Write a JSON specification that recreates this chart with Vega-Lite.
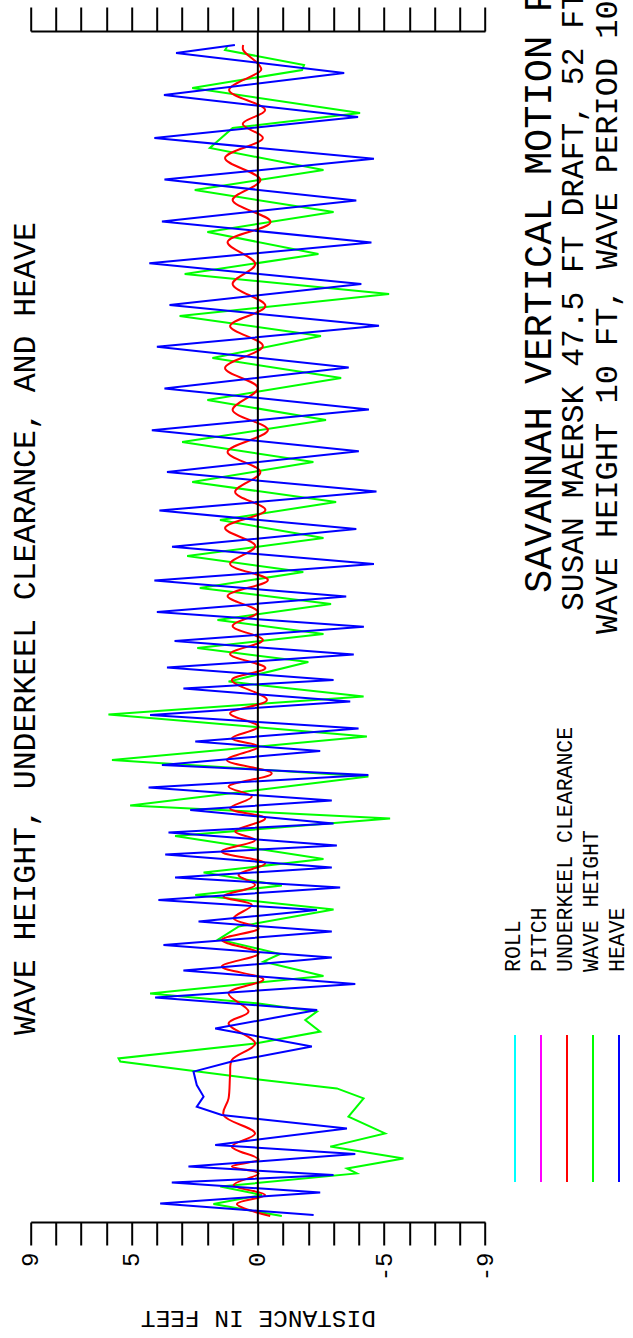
{
  "$schema": "https://vega.github.io/schema/vega-lite/v6.json",
  "width": 454.3,
  "height": 1191,
  "autosize": "none",
  "padding": {"left": 30.7, "top": 31, "right": 148, "bottom": 116},
  "background": "white",
  "config": {"view": {"stroke": null}, "font": "Liberation Mono"},
  "datasets": {
    "motion": [
      {"s":"WAVE HEIGHT","t":3,"v":-0.95},{"s":"WAVE HEIGHT","t":9,"v":1.76},{"s":"WAVE HEIGHT","t":13.5,"v":-0.16},{"s":"WAVE HEIGHT","t":17.7,"v":1.49},{"s":"WAVE HEIGHT","t":24.3,"v":-3.92},{"s":"WAVE HEIGHT","t":26.8,"v":-3.53},{"s":"WAVE HEIGHT","t":31.8,"v":-5.77},{"s":"WAVE HEIGHT","t":37.7,"v":-2.87},{"s":"WAVE HEIGHT","t":44.3,"v":-5.04},{"s":"WAVE HEIGHT","t":52.7,"v":-3.59},{"s":"WAVE HEIGHT","t":61.8,"v":-4.19},{"s":"WAVE HEIGHT","t":66.8,"v":-3.13},{"s":"WAVE HEIGHT","t":71.3,"v":-0.03},{"s":"WAVE HEIGHT","t":80.2,"v":5.45},{"s":"WAVE HEIGHT","t":81.8,"v":5.52},{"s":"WAVE HEIGHT","t":89.3,"v":0.1},{"s":"WAVE HEIGHT","t":95.2,"v":-2.47},{"s":"WAVE HEIGHT","t":101,"v":-1.88},{"s":"WAVE HEIGHT","t":105.2,"v":-2.34},{"s":"WAVE HEIGHT","t":109.3,"v":-0.03},{"s":"WAVE HEIGHT","t":114.3,"v":4.27},{"s":"WAVE HEIGHT","t":123,"v":-2.6},{"s":"WAVE HEIGHT","t":130.2,"v":-0.22},{"s":"WAVE HEIGHT","t":134,"v":-0.88},{"s":"WAVE HEIGHT","t":141.3,"v":1.56},{"s":"WAVE HEIGHT","t":147.7,"v":0.77},{"s":"WAVE HEIGHT","t":156.3,"v":-3.0},{"s":"WAVE HEIGHT","t":163.5,"v":2.48},{"s":"WAVE HEIGHT","t":168.2,"v":-0.95},{"s":"WAVE HEIGHT","t":174.7,"v":2.15},{"s":"WAVE HEIGHT","t":181.5,"v":-2.6},{"s":"WAVE HEIGHT","t":193,"v":3.28},{"s":"WAVE HEIGHT","t":201.8,"v":-5.24},{"s":"WAVE HEIGHT","t":208.2,"v":5.06},{"s":"WAVE HEIGHT","t":222.7,"v":-4.38},{"s":"WAVE HEIGHT","t":231,"v":5.78},{"s":"WAVE HEIGHT","t":242.7,"v":-4.32},{"s":"WAVE HEIGHT","t":253.8,"v":5.92},{"s":"WAVE HEIGHT","t":262.7,"v":-4.19},{"s":"WAVE HEIGHT","t":270.2,"v":1.16},
      {"s":"WAVE HEIGHT","t":280,"v":-2.0},{"s":"WAVE HEIGHT","t":287,"v":2.4},{"s":"WAVE HEIGHT","t":294,"v":-2.6},{"s":"WAVE HEIGHT","t":301,"v":1.6},{"s":"WAVE HEIGHT","t":309,"v":-2.9},{"s":"WAVE HEIGHT","t":317,"v":2.3},{"s":"WAVE HEIGHT","t":325,"v":-1.8},{"s":"WAVE HEIGHT","t":333,"v":2.8},{"s":"WAVE HEIGHT","t":342,"v":-2.6},{"s":"WAVE HEIGHT","t":351,"v":1.5},{"s":"WAVE HEIGHT","t":360,"v":-3.1},{"s":"WAVE HEIGHT","t":370,"v":2.6},{"s":"WAVE HEIGHT","t":380,"v":-2.2},{"s":"WAVE HEIGHT","t":390,"v":3.0},{"s":"WAVE HEIGHT","t":401,"v":-2.7},{"s":"WAVE HEIGHT","t":411,"v":2.0},{"s":"WAVE HEIGHT","t":422,"v":-3.3},{"s":"WAVE HEIGHT","t":432,"v":1.8},{"s":"WAVE HEIGHT","t":443,"v":-2.5},{"s":"WAVE HEIGHT","t":453,"v":3.1},{"s":"WAVE HEIGHT","t":464,"v":-5.2},{"s":"WAVE HEIGHT","t":474,"v":2.9},{"s":"WAVE HEIGHT","t":484,"v":-2.4},{"s":"WAVE HEIGHT","t":495,"v":2.0},{"s":"WAVE HEIGHT","t":505,"v":-3.0},{"s":"WAVE HEIGHT","t":516,"v":2.5},{"s":"WAVE HEIGHT","t":526,"v":-2.6},{"s":"WAVE HEIGHT","t":537,"v":1.9},{"s":"WAVE HEIGHT","t":547,"v":1.0},
      {"s":"WAVE HEIGHT","t":554.5,"v":-4.05},{"s":"WAVE HEIGHT","t":567,"v":2.6},{"s":"WAVE HEIGHT","t":576,"v":-1.75},{"s":"WAVE HEIGHT","t":578.5,"v":-1.83},{"s":"WAVE HEIGHT","t":586,"v":1.3},{"s":"WAVE HEIGHT","t":587.5,"v":1.22},
      {"s":"UNDERKEEL CLEARANCE","t":3,"v":-0.49},{"s":"UNDERKEEL CLEARANCE","t":9,"v":0.83},{"s":"UNDERKEEL CLEARANCE","t":13.5,"v":-0.29},{"s":"UNDERKEEL CLEARANCE","t":18.5,"v":0.96},{"s":"UNDERKEEL CLEARANCE","t":24.3,"v":-0.03},{"s":"UNDERKEEL CLEARANCE","t":27.7,"v":1.03},{"s":"UNDERKEEL CLEARANCE","t":31.3,"v":-0.03},{"s":"UNDERKEEL CLEARANCE","t":37.7,"v":1.03},{"s":"UNDERKEEL CLEARANCE","t":44.3,"v":0.11},{"s":"UNDERKEEL CLEARANCE","t":53.5,"v":1.36},{"s":"UNDERKEEL CLEARANCE","t":61.8,"v":1.16},{"s":"UNDERKEEL CLEARANCE","t":73.5,"v":1.1},{"s":"UNDERKEEL CLEARANCE","t":81,"v":1.03},{"s":"UNDERKEEL CLEARANCE","t":89.3,"v":0.11},{"s":"UNDERKEEL CLEARANCE","t":99.3,"v":1.16},{"s":"UNDERKEEL CLEARANCE","t":105.2,"v":0.37},{"s":"UNDERKEEL CLEARANCE","t":114.3,"v":1.16},{"s":"UNDERKEEL CLEARANCE","t":121.3,"v":-0.22},{"s":"UNDERKEEL CLEARANCE","t":127.7,"v":1.43},{"s":"UNDERKEEL CLEARANCE","t":134.3,"v":-0.03},{"s":"UNDERKEEL CLEARANCE","t":141,"v":1.43},{"s":"UNDERKEEL CLEARANCE","t":146.8,"v":-0.03},{"s":"UNDERKEEL CLEARANCE","t":151.8,"v":0.96},{"s":"UNDERKEEL CLEARANCE","t":158.5,"v":0.24},{"s":"UNDERKEEL CLEARANCE","t":162.7,"v":1.36},{"s":"UNDERKEEL CLEARANCE","t":168.5,"v":0.11},{"s":"UNDERKEEL CLEARANCE","t":173.5,"v":0.77},{"s":"UNDERKEEL CLEARANCE","t":179.3,"v":-0.29},{"s":"UNDERKEEL CLEARANCE","t":185.2,"v":1.43},{"s":"UNDERKEEL CLEARANCE","t":191,"v":0.11},{"s":"UNDERKEEL CLEARANCE","t":195.2,"v":0.9},{"s":"UNDERKEEL CLEARANCE","t":201.8,"v":-0.29},{"s":"UNDERKEEL CLEARANCE","t":206.8,"v":1.1},{"s":"UNDERKEEL CLEARANCE","t":212.7,"v":0.24},{"s":"UNDERKEEL CLEARANCE","t":217.7,"v":1.16},{"s":"UNDERKEEL CLEARANCE","t":224.3,"v":-0.55},{"s":"UNDERKEEL CLEARANCE","t":231,"v":1.23},{"s":"UNDERKEEL CLEARANCE","t":237.7,"v":-0.03},{"s":"UNDERKEEL CLEARANCE","t":241.8,"v":1.03},{"s":"UNDERKEEL CLEARANCE","t":247.7,"v":-0.03},{"s":"UNDERKEEL CLEARANCE","t":254.3,"v":1.1},{"s":"UNDERKEEL CLEARANCE","t":261,"v":-0.36},{"s":"UNDERKEEL CLEARANCE","t":271,"v":1.03},
      {"s":"UNDERKEEL CLEARANCE","t":277,"v":-0.3},{"s":"UNDERKEEL CLEARANCE","t":284,"v":1.1},{"s":"UNDERKEEL CLEARANCE","t":291,"v":-0.2},{"s":"UNDERKEEL CLEARANCE","t":298,"v":1.0},{"s":"UNDERKEEL CLEARANCE","t":305,"v":0.0},{"s":"UNDERKEEL CLEARANCE","t":313,"v":1.2},{"s":"UNDERKEEL CLEARANCE","t":321,"v":-0.4},{"s":"UNDERKEEL CLEARANCE","t":329,"v":1.1},{"s":"UNDERKEEL CLEARANCE","t":338,"v":0.1},{"s":"UNDERKEEL CLEARANCE","t":347,"v":1.3},{"s":"UNDERKEEL CLEARANCE","t":356,"v":-0.3},{"s":"UNDERKEEL CLEARANCE","t":365,"v":0.9},{"s":"UNDERKEEL CLEARANCE","t":375,"v":-0.1},{"s":"UNDERKEEL CLEARANCE","t":385,"v":1.2},{"s":"UNDERKEEL CLEARANCE","t":396,"v":-0.4},{"s":"UNDERKEEL CLEARANCE","t":406,"v":1.0},{"s":"UNDERKEEL CLEARANCE","t":417,"v":0.0},{"s":"UNDERKEEL CLEARANCE","t":427,"v":1.3},{"s":"UNDERKEEL CLEARANCE","t":438,"v":-0.2},{"s":"UNDERKEEL CLEARANCE","t":448,"v":1.1},{"s":"UNDERKEEL CLEARANCE","t":458,"v":-0.3},{"s":"UNDERKEEL CLEARANCE","t":469,"v":1.0},{"s":"UNDERKEEL CLEARANCE","t":479,"v":0.1},{"s":"UNDERKEEL CLEARANCE","t":490,"v":1.2},{"s":"UNDERKEEL CLEARANCE","t":500,"v":-0.5},{"s":"UNDERKEEL CLEARANCE","t":511,"v":1.0},{"s":"UNDERKEEL CLEARANCE","t":521,"v":-0.1},{"s":"UNDERKEEL CLEARANCE","t":532,"v":1.3},{"s":"UNDERKEEL CLEARANCE","t":542,"v":-0.2},{"s":"UNDERKEEL CLEARANCE","t":549,"v":0.6},
      {"s":"UNDERKEEL CLEARANCE","t":556,"v":-0.29},{"s":"UNDERKEEL CLEARANCE","t":566,"v":1.14},{"s":"UNDERKEEL CLEARANCE","t":576,"v":-0.13},{"s":"UNDERKEEL CLEARANCE","t":578.5,"v":-0.05},{"s":"UNDERKEEL CLEARANCE","t":586,"v":0.58},{"s":"UNDERKEEL CLEARANCE","t":588.5,"v":0.58},
      {"s":"HEAVE","t":3.5,"v":-2.21},{"s":"HEAVE","t":9.3,"v":3.87},{"s":"HEAVE","t":14.8,"v":-2.47},{"s":"HEAVE","t":19.7,"v":3.41},{"s":"HEAVE","t":23.5,"v":-3.0},{"s":"HEAVE","t":27.7,"v":2.75},{"s":"HEAVE","t":34,"v":-3.86},{"s":"HEAVE","t":38.5,"v":1.69},{"s":"HEAVE","t":46.8,"v":-3.53},{"s":"HEAVE","t":53.5,"v":1.43},{"s":"HEAVE","t":57.7,"v":2.42},{"s":"HEAVE","t":62.7,"v":2.15},{"s":"HEAVE","t":68.5,"v":2.42},{"s":"HEAVE","t":75.2,"v":2.55},{"s":"HEAVE","t":80.2,"v":1.03},{"s":"HEAVE","t":87.7,"v":-2.14},{"s":"HEAVE","t":96.8,"v":1.69},{"s":"HEAVE","t":106,"v":-2.35},{"s":"HEAVE","t":112.3,"v":4.07},{"s":"HEAVE","t":119,"v":-3.86},{"s":"HEAVE","t":125.7,"v":2.95},{"s":"HEAVE","t":132.2,"v":-2.93},{"s":"HEAVE","t":138.5,"v":3.74},{"s":"HEAVE","t":145.2,"v":-2.93},{"s":"HEAVE","t":150.2,"v":2.35},{"s":"HEAVE","t":156,"v":-2.34},{"s":"HEAVE","t":161,"v":3.94},{"s":"HEAVE","t":167.3,"v":-3.26},{"s":"HEAVE","t":172.3,"v":3.28},{"s":"HEAVE","t":177.2,"v":-2.93},{"s":"HEAVE","t":183.8,"v":3.67},{"s":"HEAVE","t":188.2,"v":-3.13},{"s":"HEAVE","t":194.7,"v":3.54},{"s":"HEAVE","t":199.3,"v":-3.0},{"s":"HEAVE","t":206,"v":2.68},{"s":"HEAVE","t":210.7,"v":-2.93},{"s":"HEAVE","t":217.3,"v":4.33},{"s":"HEAVE","t":223.5,"v":-4.38},{"s":"HEAVE","t":228.5,"v":3.8},{"s":"HEAVE","t":235.5,"v":-2.47},{"s":"HEAVE","t":240.2,"v":2.48},{"s":"HEAVE","t":246.8,"v":-3.99},{"s":"HEAVE","t":253.5,"v":4.27},{"s":"HEAVE","t":260.2,"v":-3.66},{"s":"HEAVE","t":266.8,"v":2.95},{"s":"HEAVE","t":271,"v":-3.0},
      {"s":"HEAVE","t":277.2,"v":3.6},{"s":"HEAVE","t":283.7,"v":-3.8},{"s":"HEAVE","t":290.5,"v":3.3},{"s":"HEAVE","t":297.6,"v":-4.2},{"s":"HEAVE","t":305,"v":4.0},{"s":"HEAVE","t":312.7,"v":-3.5},{"s":"HEAVE","t":320.7,"v":4.1},{"s":"HEAVE","t":329,"v":-4.6},{"s":"HEAVE","t":337.6,"v":3.4},{"s":"HEAVE","t":346.5,"v":-3.9},{"s":"HEAVE","t":355.7,"v":3.9},{"s":"HEAVE","t":365.2,"v":-4.7},{"s":"HEAVE","t":375,"v":3.6},{"s":"HEAVE","t":385.4,"v":-4.0},{"s":"HEAVE","t":395.9,"v":4.2},{"s":"HEAVE","t":406.3,"v":-4.4},{"s":"HEAVE","t":416.8,"v":3.7},{"s":"HEAVE","t":427.2,"v":-3.6},{"s":"HEAVE","t":437.6,"v":4.0},{"s":"HEAVE","t":448.1,"v":-4.8},{"s":"HEAVE","t":458.5,"v":3.5},{"s":"HEAVE","t":469,"v":-4.1},{"s":"HEAVE","t":479.4,"v":4.3},{"s":"HEAVE","t":489.8,"v":-4.5},{"s":"HEAVE","t":500.3,"v":3.8},{"s":"HEAVE","t":510.7,"v":-3.9},{"s":"HEAVE","t":521.2,"v":3.7},{"s":"HEAVE","t":531.6,"v":-4.6},{"s":"HEAVE","t":542,"v":4.1},
      {"s":"HEAVE","t":552.5,"v":-3.97},{"s":"HEAVE","t":563.5,"v":3.72},{"s":"HEAVE","t":574.5,"v":-3.42},{"s":"HEAVE","t":584.5,"v":3.24},{"s":"HEAVE","t":588.5,"v":0.91}
    ],
    "legend": [{"series":"ROLL"},{"series":"PITCH"},{"series":"UNDERKEEL CLEARANCE"},{"series":"WAVE HEIGHT"},{"series":"HEAVE"}]
  },
  "resolve": {"scale": {"x": "independent"}},
  "layer": [
    {
      "data": {"name": "motion"},
      "transform": [{"filter": "datum.s == 'WAVE HEIGHT'"}],
      "mark": {"type": "line", "strokeWidth": 2},
      "encoding": {
        "x": {"field": "v", "type": "quantitative",
          "scale": {"domain": [-9, 9], "reverse": true, "nice": false, "zero": false},
          "axis": {"orient": "bottom", "values": [-9,-8,-7,-6,-5,-4,-3,-2,-1,0,1,2,3,4,5,6,7,8,9],
            "labelExpr": "indexof([9,5,0,-5,-9], datum.value) >= 0 ? toString(datum.value) : ''",
            "tickSize": 23, "tickWidth": 2, "tickColor": "black", "domainColor": "black", "domainWidth": 2,
            "grid": false, "labelAngle": -90, "labelFontSize": 24, "labelFont": "Liberation Mono", "labelColor": "black",
            "labelPadding": 7, "labelOverlap": false, "labelFlush": false,
            "title": "DISTANCE IN FEET", "titleAngle": 180, "titleFontSize": 24.5, "titleFont": "Liberation Mono",
            "titleFontWeight": "normal", "titleColor": "black", "titleBaseline": "alphabetic", "titleAlign": "center", "titleY": 88}},
        "y": {"field": "t", "type": "quantitative", "scale": {"domain": [0, 595.5], "nice": false, "zero": false}, "axis": null},
        "color": {"field": "s", "type": "nominal",
          "scale": {"domain": ["ROLL","PITCH","UNDERKEEL CLEARANCE","WAVE HEIGHT","HEAVE"], "range": ["#00ffff","#ff00ff","#ff0000","#00ff00","#0000ff"]},
          "legend": null},
        "order": {"field": "t", "type": "quantitative"}
      }
    },
    {
      "data": {"name": "motion"},
      "transform": [{"filter": "datum.s == 'UNDERKEEL CLEARANCE'"}],
      "mark": {"type": "line", "strokeWidth": 2, "interpolate": "catmull-rom"},
      "encoding": {
        "x": {"field": "v", "type": "quantitative", "scale": {"domain": [-9, 9], "reverse": true, "nice": false, "zero": false}, "axis": null},
        "y": {"field": "t", "type": "quantitative"},
        "color": {"field": "s", "type": "nominal", "legend": null},
        "order": {"field": "t", "type": "quantitative"}
      }
    },
    {
      "data": {"name": "motion"},
      "transform": [{"filter": "datum.s == 'HEAVE'"}],
      "mark": {"type": "line", "strokeWidth": 2},
      "encoding": {
        "x": {"field": "v", "type": "quantitative", "scale": {"domain": [-9, 9], "reverse": true, "nice": false, "zero": false}, "axis": null},
        "y": {"field": "t", "type": "quantitative"},
        "color": {"field": "s", "type": "nominal", "legend": null},
        "order": {"field": "t", "type": "quantitative"}
      }
    },
    {
      "data": {"values": [{"v": 0}]},
      "mark": {"type": "rule", "color": "black", "strokeWidth": 2},
      "encoding": {
        "x": {"field": "v", "type": "quantitative",
          "scale": {"domain": [-9, 9], "reverse": true, "nice": false, "zero": false},
          "axis": {"orient": "top", "values": [-9,-8,-7,-6,-5,-4,-3,-2,-1,0,1,2,3,4,5,6,7,8,9], "labels": false,
            "tickSize": 24, "tickWidth": 2, "tickColor": "black", "domainColor": "black", "domainWidth": 2, "grid": false, "title": null}}
      }
    },
    {
      "data": {"name": "legend"},
      "mark": {"type": "rule", "strokeWidth": 2},
      "encoding": {
        "x": {"field": "series", "type": "nominal", "sort": null,
          "scale": {"type": "point", "domain": ["ROLL","PITCH","UNDERKEEL CLEARANCE","WAVE HEIGHT","HEAVE"], "range": [484.3, 588.3], "padding": 0},
          "axis": null},
        "y": {"datum": 93.5, "type": "quantitative"},
        "y2": {"datum": 20},
        "color": {"field": "series", "type": "nominal", "legend": null}
      }
    },
    {
      "data": {"name": "legend"},
      "mark": {"type": "text", "angle": 270, "align": "left", "baseline": "alphabetic", "dy": 5, "fontSize": 21.5, "font": "Liberation Mono", "color": "black"},
      "encoding": {
        "x": {"field": "series", "type": "nominal", "sort": null,
          "scale": {"type": "point", "domain": ["ROLL","PITCH","UNDERKEEL CLEARANCE","WAVE HEIGHT","HEAVE"], "range": [484.3, 588.3], "padding": 0},
          "axis": null},
        "y": {"datum": 125, "type": "quantitative"},
        "text": {"field": "series"}
      }
    },
    {
      "data": {"values": [{"label": "WAVE HEIGHT, UNDERKEEL CLEARANCE, AND HEAVE"}]},
      "mark": {"type": "text", "angle": 270, "align": "left", "baseline": "alphabetic", "fontSize": 31.5, "font": "Liberation Mono", "color": "black"},
      "encoding": {
        "x": {"datum": 8.83, "type": "quantitative", "scale": {"domain": [-9, 9], "reverse": true, "nice": false, "zero": false}, "axis": null},
        "y": {"datum": 93.5, "type": "quantitative"},
        "text": {"field": "label"}
      }
    },
    {
      "data": {"values": [{"label": "SAVANNAH VERTICAL MOTION F"}]},
      "mark": {"type": "text", "angle": 270, "align": "left", "baseline": "alphabetic", "fontSize": 38.7, "font": "Liberation Mono", "color": "black"},
      "encoding": {
        "x": {"datum": -11.61, "type": "quantitative", "scale": {"domain": [-9, 9], "reverse": true, "nice": false, "zero": false}, "axis": null},
        "y": {"datum": 314.5, "type": "quantitative"},
        "text": {"field": "label"}
      }
    },
    {
      "data": {"values": [{"label": "SUSAN MAERSK 47.5 FT DRAFT, 52 FT"}]},
      "mark": {"type": "text", "angle": 270, "align": "left", "baseline": "alphabetic", "fontSize": 31.3, "font": "Liberation Mono", "color": "black"},
      "encoding": {
        "x": {"datum": -12.88, "type": "quantitative", "scale": {"domain": [-9, 9], "reverse": true, "nice": false, "zero": false}, "axis": null},
        "y": {"datum": 305.5, "type": "quantitative"},
        "text": {"field": "label"}
      }
    },
    {
      "data": {"values": [{"label": "WAVE HEIGHT 10 FT, WAVE PERIOD 10"}]},
      "mark": {"type": "text", "angle": 270, "align": "left", "baseline": "alphabetic", "fontSize": 32, "font": "Liberation Mono", "color": "black"},
      "encoding": {
        "x": {"datum": -14.23, "type": "quantitative", "scale": {"domain": [-9, 9], "reverse": true, "nice": false, "zero": false}, "axis": null},
        "y": {"datum": 294, "type": "quantitative"},
        "text": {"field": "label"}
      }
    }
  ]
}
